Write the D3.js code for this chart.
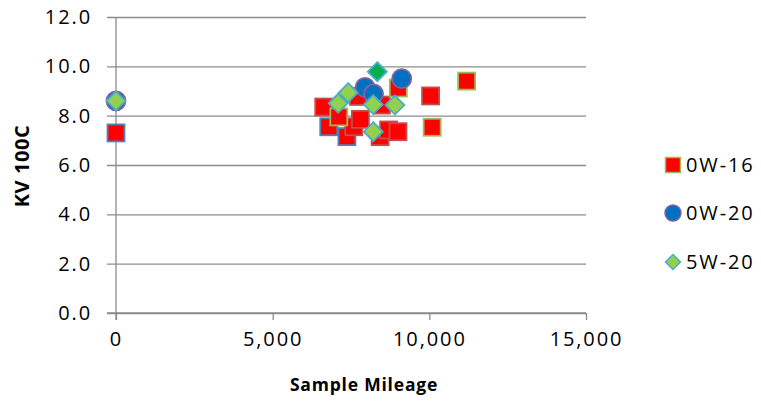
<!DOCTYPE html>
<html>
<head>
<meta charset="utf-8">
<script src="https://cdn.jsdelivr.net/npm/d3@7"></script>
<style>
  html, body { margin: 0; padding: 0; background: #fff; }
  svg { display: block; }
  text { font-family: "Open Sans", "Liberation Sans", sans-serif; fill: #000; }
</style>
</head>
<body>
<svg id="chart" width="761" height="403"></svg>
<script>
// Kinematic viscosity at 100C vs. sample mileage, by oil grade
const seriesNames = ["0W-16", "0W-20", "5W-20"];

// 0W-16 samples: [mileage, KV 100C, outline]
const oil0W16 = [
  [0, 7.30, "#4F81BD"],
  [6630, 8.35, "#C0504D"],
  [6790, 7.55, "#4F81BD"],
  [7370, 7.15, "#4F81BD"],
  [7590, 7.55, "#C0504D"],
  [7800, 7.85, "#C0504D"],
  [7110, 7.95, "#9BBB59"],
  [7740, 8.78, "#C0504D"],
  [8470, 8.43, "#C0504D"],
  [8430, 7.15, "#C0504D"],
  [8700, 7.42, "#C0504D"],
  [9000, 7.35, "#C0504D"],
  [9010, 9.12, "#9BBB59"],
  [10040, 8.80, "#C0504D"],
  [10090, 7.53, "#9BBB59"],
  [11190, 9.40, "#9BBB59"]
];

// 0W-20 samples: [mileage, KV 100C]
const oil0W20 = [
  [0, 8.60],
  [7950, 9.15],
  [8220, 8.88],
  [9120, 9.50]
];

// 5W-20 samples: [mileage, KV 100C, fill]
const oil5W20 = [
  [0, 8.60, "#92D050"],
  [7410, 8.93, "#92D050"],
  [7090, 8.50, "#92D050"],
  [8210, 8.45, "#92D050"],
  [8900, 8.43, "#92D050"],
  [8210, 7.35, "#92D050"],
  [8340, 9.78, "#00B050"]
];

const xTicks = [0, 5000, 10000, 15000];
const yTicks = [0, 2, 4, 6, 8, 10, 12];

const svg = d3.select("#chart");
const plot = { left: 116, right: 586, top: 17, bottom: 313 };

const x = d3.scaleLinear().domain([0, 15000]).range([plot.left, plot.right]);
const y = d3.scaleLinear().domain([0, 12]).range([plot.bottom, plot.top]);

const grid = "#8c8c8c";
const fontSize = 20;
const spacing = "1.9px";

// Horizontal gridlines with left tick marks
const yAxis = d3.axisLeft(y).tickValues(yTicks)
  .tickSize(-(plot.right - plot.left)).tickFormat(d3.format(".1f")).tickPadding(24);
const gy = svg.append("g").attr("transform", `translate(${plot.left},0)`).call(yAxis);
gy.select(".domain").remove();
gy.selectAll(".tick line").attr("stroke", grid).attr("stroke-width", 1.3)
  .attr("x1", -9);
gy.selectAll(".tick text").attr("font-size", fontSize).attr("letter-spacing", spacing)
  .attr("font-family", "Open Sans, sans-serif").attr("fill", "#000");

// Vertical axis line
svg.append("line")
  .attr("x1", plot.left).attr("x2", plot.left)
  .attr("y1", plot.top).attr("y2", plot.bottom + 7)
  .attr("stroke", grid).attr("stroke-width", 1.3);

// X axis
const xAxis = d3.axisBottom(x).tickValues(xTicks).tickSize(7)
  .tickFormat(d3.format(",")).tickPadding(12);
const gx = svg.append("g").attr("transform", `translate(0,${plot.bottom})`).call(xAxis);
gx.select(".domain").attr("stroke", grid).attr("stroke-width", 1.3)
  .attr("d", `M${plot.left - 9},0H${plot.right}`);
gx.selectAll(".tick line").attr("stroke", grid).attr("stroke-width", 1.3);
gx.selectAll(".tick text").attr("font-size", fontSize).attr("letter-spacing", spacing)
  .attr("font-family", "Open Sans, sans-serif").attr("fill", "#000");

// Axis titles
svg.append("text")
  .attr("x", 364).attr("y", 391)
  .attr("text-anchor", "middle").attr("font-size", 17.5).attr("font-weight", "bold")
  .attr("letter-spacing", "0.8px")
  .text("Sample Mileage");
svg.append("text")
  .attr("transform", "translate(29,166) rotate(-90)")
  .attr("text-anchor", "middle").attr("font-size", 20).attr("font-weight", "bold")
  .attr("letter-spacing", "0.6px")
  .text("KV 100C");

const marks = svg.append("g");

// Marker shapes
const sq = 17, circR = 9.5, dia = 9.5;
function diamondPath(r) { return `M0,${-r}L${r},0L0,${r}L${-r},0Z`; }

// 0W-16: red squares
marks.append("g").selectAll("rect").data(oil0W16).join("rect")
  .attr("x", d => x(d[0]) - sq / 2).attr("y", d => y(d[1]) - sq / 2)
  .attr("width", sq).attr("height", sq)
  .attr("fill", "#FF0000").attr("stroke", d => d[2]).attr("stroke-width", 1.8);

// 0W-20: blue circles
marks.append("g").selectAll("circle").data(oil0W20).join("circle")
  .attr("cx", d => x(d[0])).attr("cy", d => y(d[1])).attr("r", circR)
  .attr("fill", "#0070C0").attr("stroke", "#8064A2").attr("stroke-width", 1.8);

// 5W-20: green diamonds
marks.append("g").selectAll("path").data(oil5W20).join("path")
  .attr("transform", d => `translate(${x(d[0])},${y(d[1])})`)
  .attr("d", diamondPath(dia))
  .attr("fill", d => d[2]).attr("stroke", "#4BACC6").attr("stroke-width", 1.8);

// Legend
const legendRows = [165, 213, 262];
const lg = svg.append("g");
seriesNames.forEach((name, i) => {
  const cy = legendRows[i], cx = 673;
  if (i === 0) {
    lg.append("rect").attr("x", cx - 7.5).attr("y", cy - 7.5).attr("width", 15).attr("height", 15)
      .attr("fill", "#FF0000").attr("stroke", "#9BBB59").attr("stroke-width", 1.5);
  } else if (i === 1) {
    lg.append("circle").attr("cx", cx).attr("cy", cy).attr("r", 8)
      .attr("fill", "#0070C0").attr("stroke", "#8064A2").attr("stroke-width", 1.5);
  } else {
    lg.append("path").attr("transform", `translate(${cx},${cy})`).attr("d", diamondPath(7.5))
      .attr("fill", "#92D050").attr("stroke", "#4BACC6").attr("stroke-width", 1.5);
  }
  lg.append("text").attr("x", 686).attr("y", cy).attr("dy", "0.35em")
    .attr("font-size", fontSize).attr("letter-spacing", spacing).text(name);
});
</script>
</body>
</html>
